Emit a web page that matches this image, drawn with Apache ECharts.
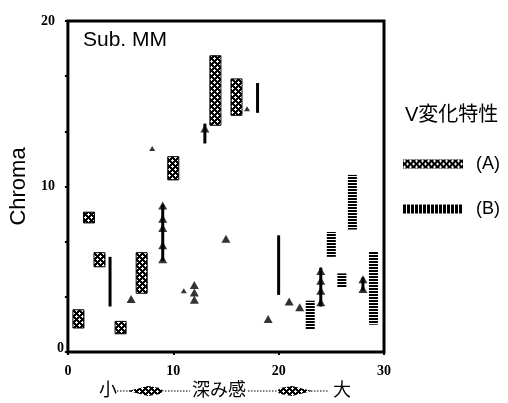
<!DOCTYPE html>
<html>
<head>
<meta charset="utf-8">
<script src="https://cdn.jsdelivr.net/npm/echarts@6/dist/echarts.min.js"></script>
<style>
  html, body { margin: 0; padding: 0; background: #fff; }
  #chart { width: 508px; height: 403px; }
</style>
</head>
<body>
<div id="chart"></div>
<script>
// V変化特性 (A): [深み感, 下端, 上端]
const rangeA = [
  [1, 1.45, 2.55], [2, 7.8, 8.45], [3, 5.15, 6.0], [5, 1.1, 1.85],
  [7, 3.55, 6.0], [10, 10.4, 11.8], [14, 13.7, 17.9], [16, 14.3, 16.5]
]
// V変化特性 (B)
const rangeB = [
  [23, 1.35, 3.1], [25, 5.75, 7.25], [26, 3.9, 4.75], [27, 7.4, 10.7], [29, 1.65, 6.05]
]
// 実線の範囲
const rangeLine = [
  [4, 2.75, 5.75], [9, 5.5, 8.9], [13, 12.6, 13.8], [18, 14.45, 16.25],
  [20, 3.45, 7.05], [24, 2.75, 5.1], [28, 3.7, 4.5]
]
// 三角マーク
const triPoints = [
  [6, 3.2], [9, 8.85], [9, 8.05], [9, 7.5], [9, 6.45], [9, 5.6],
  [12, 4.05], [12, 3.6], [12, 3.15], [13, 13.5], [15, 6.85], [19, 2.0],
  [21, 3.05], [22, 2.7], [24, 4.9], [24, 4.3], [24, 3.7], [24, 3.0],
  [28, 4.4], [28, 3.8]
]
const smallTriPoints = [[8, 12.3], [11, 3.7], [17, 14.7]]

const xTickValues = [0, 10, 20, 30]
const yTickValues = [0, 10, 20]

// パターン
function makePattern(rows) {
  const h = rows.length
  const w = rows[0].length
  const c = document.createElement('canvas')
  c.width = w
  c.height = h
  const ctx = c.getContext('2d')
  ctx.fillStyle = '#fff'
  ctx.fillRect(0, 0, w, h)
  ctx.fillStyle = '#000'
  for (let y = 0; y < h; y++) {
    for (let x = 0; x < w; x++) {
      if (rows[y][x] === 'B') ctx.fillRect(x, y, 1, 1)
    }
  }
  return { image: c, repeat: 'repeat' }
}

const patA = makePattern(['BWBBBB', 'WWWBBB', 'BWBBBB', 'BBBBWB', 'BBBWWW', 'BBBBWB'])
const patB = makePattern(['BBBB', 'BBBB', 'WWWW'])
// 凡例の (B) は縦縞
const patBLegend = makePattern(['BBBW', 'BBBW'])

function barItem(width, fill, outline) {
  return function (params, api) {
    const x = api.value(0)
    const top = api.coord([x, api.value(2)])
    const bot = api.coord([x, api.value(1)])
    return {
      type: 'rect',
      shape: { x: top[0] - width / 2, y: top[1], width: width, height: bot[1] - top[1] },
      style: { fill: fill, stroke: outline ? '#000' : null, lineWidth: 1 }
    }
  }
}

function lineItem(params, api) {
  const x = api.value(0)
  const top = api.coord([x, api.value(2)])
  const bot = api.coord([x, api.value(1)])
  return {
    type: 'line',
    shape: { x1: top[0], y1: top[1], x2: bot[0], y2: bot[1] },
    style: { stroke: '#000', lineWidth: 3 }
  }
}

const chart = echarts.init(document.getElementById('chart'))

const labelFont = { fontFamily: 'Liberation Serif', fontWeight: 'bold', fontSize: 14, color: '#000' }

const option = {
  backgroundColor: '#fff',
  animation: false,
  title: [
    {
      text: 'Sub. MM',
      left: 78, top: 25,
      textStyle: { fontFamily: 'Liberation Sans', fontWeight: 'normal', fontSize: 21, color: '#000' }
    },
    {
      text: 'V変化特性',
      left: 400, top: 100,
      textStyle: { fontFamily: 'Liberation Sans, Noto Sans CJK JP', fontWeight: 'normal', fontSize: 20, color: '#000' }
    }
  ],
  legend: {
    orient: 'vertical',
    left: 398, top: 150,
    itemWidth: 60, itemHeight: 9,
    itemGap: 27,
    textStyle: { fontFamily: 'Liberation Sans', fontSize: 18, color: '#000', padding: [0, 0, 0, 8] },
    data: [
      { name: '(A)', icon: 'rect' },
      { name: '(B)', icon: 'rect' }
    ]
  },
  grid: {
    left: 66, right: 124, top: 21, bottom: 51,
    show: true, borderColor: '#000', borderWidth: 3
  },
  xAxis: {
    type: 'value',
    min: 0, max: 30, interval: 10,
    axisLine: { show: false },
    axisTick: { show: true, length: 3, lineStyle: { color: '#000', width: 2 } },
    axisLabel: Object.assign({ margin: 12, customValues: xTickValues }, labelFont),
    splitLine: { show: false }
  },
  yAxis: {
    type: 'value',
    min: 0, max: 20, interval: 10,
    name: 'Chroma',
    nameLocation: 'middle',
    nameGap: 34,
    nameTextStyle: { fontFamily: 'Liberation Sans', fontSize: 22, color: '#000' },
    axisLine: { show: false },
    axisTick: { show: true, length: 3, lineStyle: { color: '#000', width: 2 } },
    minorTick: { show: true, splitNumber: 3, length: 3, lineStyle: { color: '#000', width: 2 } },
    axisLabel: Object.assign({
      margin: 4,
      customValues: yTickValues,
      formatter: v => v === 0 ? '{z|0}' : '{n|' + v + '}',
      rich: {
        n: Object.assign({ padding: [0, 9, 0, 0] }, labelFont),
        z: Object.assign({ padding: [0, 0, 8, 0] }, labelFont)
      }
    }, labelFont),
    splitLine: { show: false }
  },
  graphic: [
    { type: 'text', left: 99, top: 380, style: { text: '小', font: '18px "Noto Sans CJK JP"', fill: '#000' } },
    { type: 'text', left: 192, top: 380, style: { text: '深み感', font: '18px "Noto Sans CJK JP"', fill: '#000' } },
    { type: 'text', left: 333, top: 380, style: { text: '大', font: '18px "Noto Sans CJK JP"', fill: '#000' } },
    { type: 'line', shape: { x1: 117, y1: 391, x2: 190, y2: 391 }, style: { stroke: '#000', lineWidth: 1, lineDash: [1.5, 1.5] } },
    { type: 'line', shape: { x1: 248, y1: 391, x2: 328, y2: 391 }, style: { stroke: '#000', lineWidth: 1, lineDash: [1.5, 1.5] } },
    { type: 'polygon', shape: { points: [[128, 391], [148, 386], [160, 388], [163, 391], [160, 394], [148, 396]] }, style: { fill: patA } },
    { type: 'polygon', shape: { points: [[312, 391], [292, 386], [280, 388], [277, 391], [280, 394], [292, 396]] }, style: { fill: patA } }
  ],
  series: [
    {
      name: '(A)',
      type: 'custom',
      renderItem: barItem(11, patA, true),
      itemStyle: { color: patA },
      encode: { x: 0, y: [1, 2] },
      data: rangeA
    },
    {
      name: '(B)',
      type: 'custom',
      renderItem: barItem(9, patB, false),
      itemStyle: { color: patBLegend },
      encode: { x: 0, y: [1, 2] },
      data: rangeB
    },
    {
      name: 'line',
      type: 'custom',
      renderItem: lineItem,
      encode: { x: 0, y: [1, 2] },
      data: rangeLine
    },
    {
      name: 'tri',
      type: 'scatter',
      symbol: 'triangle',
      symbolSize: [9, 8],
      itemStyle: { color: '#000' },
      data: triPoints
    },
    {
      name: 'triSmall',
      type: 'scatter',
      symbol: 'triangle',
      symbolSize: [6, 5],
      itemStyle: { color: '#000' },
      data: smallTriPoints
    }
  ]
}

chart.setOption(option)
</script>
</body>
</html>
